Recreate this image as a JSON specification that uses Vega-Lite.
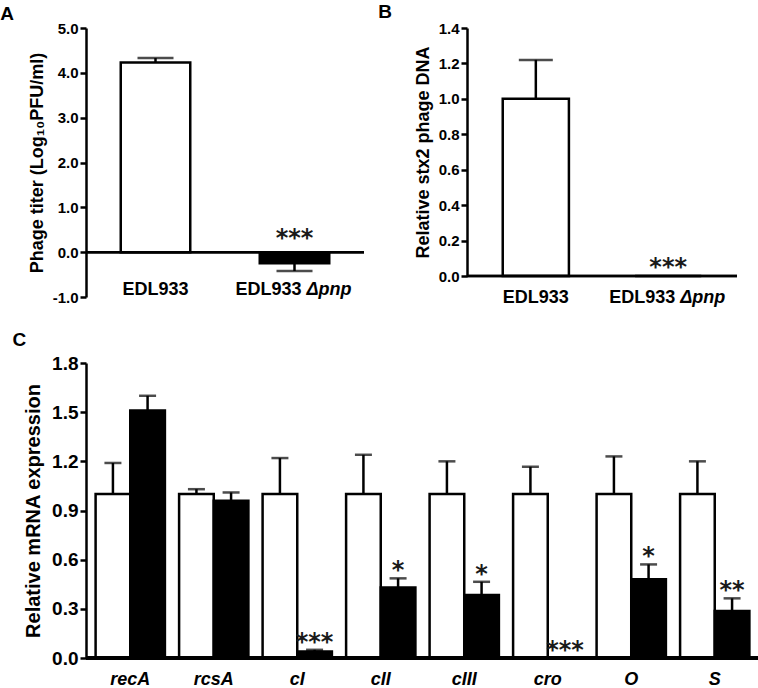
{
  "$schema": "https://vega.github.io/schema/vega-lite/v6.json",
  "padding": {"left": 0, "top": 3, "right": 0, "bottom": 0},
  "background": "white",
  "config": {
    "font": "Liberation Sans",
    "view": {"stroke": null},
    "axis": {
      "grid": false,
      "domainColor": "black",
      "domainWidth": 2.5,
      "tickColor": "black",
      "tickWidth": 2.5,
      "tickSize": 6,
      "labelColor": "black",
      "labelFont": "Liberation Sans",
      "labelFontWeight": "bold",
      "titleColor": "black",
      "titleFont": "Liberation Sans",
      "titleFontWeight": "bold",
      "labelPadding": 2,
      "labelOverlap": false
    },
    "title": {"font": "Liberation Sans", "fontWeight": "bold", "fontSize": 19, "color": "black", "anchor": "start"}
  },
  "spacing": 24,
  "vconcat": [
    {
      "spacing": 12,
      "hconcat": [
        {
          "width": 278,
          "height": 269,
          "title": {"text": "A", "dx": -28, "offset": -3},
          "data": {"values": [
            {"strain": "EDL933", "mean": 4.23, "errEnd": 4.33, "sig": ""},
            {"strain": "EDL933 Δpnp", "mean": -0.245, "errEnd": -0.42, "sig": "***"}
          ]},
          "encoding": {
            "x": {"field": "strain", "type": "nominal", "sort": null, "axis": null,
                  "scale": {"paddingInner": 0.5, "paddingOuter": 0.25}}
          },
          "layer": [
            {"mark": {"type": "bar", "stroke": "black", "strokeWidth": 2.5},
             "encoding": {
               "y": {"field": "mean", "type": "quantitative",
                     "scale": {"domain": [-1, 5], "nice": false, "zero": false},
                     "axis": {"values": [-1, 0, 1, 2, 3, 4, 5], "tickCount": 10, "labelFontSize": 15, "titleFontSize": 18, "titlePadding": 6, "labelOverlap": false,
                              "labelExpr": "replace(format(datum.value, '.1f'), '−', '-')",
                              "title": "Phage titer (Log₁₀PFU/ml)"}},
               "fill": {"field": "strain", "type": "nominal", "legend": null,
                        "scale": {"domain": ["EDL933", "EDL933 Δpnp"], "range": ["white", "black"]}}
             }},
            {"mark": {"type": "rule", "color": "black", "strokeWidth": 2.5},
             "encoding": {"y": {"field": "mean", "type": "quantitative"}, "y2": {"field": "errEnd"}}},
            {"mark": {"type": "tick", "color": "black", "thickness": 2.5, "size": 36},
             "encoding": {"y": {"field": "errEnd", "type": "quantitative"}}},
            {"mark": {"type": "rule", "color": "black", "strokeWidth": 2.5},
             "encoding": {"y": {"datum": 0}, "x": null}},
            {"mark": {"type": "text", "font": "DejaVu Sans", "fontWeight": "bold", "fontSize": 24, "baseline": "alphabetic", "dy": -6, "color": "#1a1a1a"},
             "encoding": {"y": {"datum": 0}, "text": {"field": "sig"}}},
            {"transform": [{"filter": "datum.strain == 'EDL933'"}],
             "mark": {"type": "text", "fontSize": 18, "fontWeight": "bold", "baseline": "middle", "align": "center"},
             "encoding": {"y": {"datum": -0.85}, "text": {"value": "EDL933"}}},
            {"transform": [{"filter": "datum.strain != 'EDL933'"}],
             "mark": {"type": "text", "fontSize": 18, "fontWeight": "bold", "baseline": "middle", "align": "right", "dx": 7},
             "encoding": {"y": {"datum": -0.85}, "text": {"value": "EDL933"}}},
            {"transform": [{"filter": "datum.strain != 'EDL933'"}],
             "mark": {"type": "text", "fontSize": 18, "fontWeight": "bold", "fontStyle": "italic", "baseline": "middle", "align": "left", "dx": 12},
             "encoding": {"y": {"datum": -0.85}, "text": {"value": "Δpnp"}}}
          ]
        },
        {
          "width": 270,
          "height": 248,
          "title": {"text": "B", "dx": -36, "offset": -1},
          "data": {"values": [
            {"strain": "EDL933", "mean": 1.0, "errEnd": 1.22, "sig": ""},
            {"strain": "EDL933 Δpnp", "mean": 0, "errEnd": 0, "sig": "***"}
          ]},
          "encoding": {
            "x": {"field": "strain", "type": "nominal", "sort": null, "axis": null,
                  "scale": {"paddingInner": 0.5, "paddingOuter": 0.27}}
          },
          "layer": [
            {"mark": {"type": "bar", "stroke": "black", "strokeWidth": 2.5},
             "encoding": {
               "y": {"field": "mean", "type": "quantitative",
                     "scale": {"domain": [0, 1.4], "nice": false},
                     "axis": {"values": [0, 0.2, 0.4, 0.6, 0.8, 1.0, 1.2, 1.4], "tickCount": 10, "labelFontSize": 15, "titleFontSize": 18, "titlePadding": 6, "labelOverlap": false,
                              "labelExpr": "format(datum.value, '.1f')",
                              "title": "Relative stx2 phage DNA"}},
               "fill": {"field": "strain", "type": "nominal", "legend": null,
                        "scale": {"domain": ["EDL933", "EDL933 Δpnp"], "range": ["white", "black"]}}
             }},
            {"transform": [{"filter": "datum.errEnd > datum.mean"}],
             "mark": {"type": "rule", "color": "black", "strokeWidth": 2.5},
             "encoding": {"y": {"field": "mean", "type": "quantitative"}, "y2": {"field": "errEnd"}}},
            {"transform": [{"filter": "datum.errEnd > datum.mean"}],
             "mark": {"type": "tick", "color": "black", "thickness": 2.5, "size": 34},
             "encoding": {"y": {"field": "errEnd", "type": "quantitative"}}},
            {"mark": {"type": "rule", "color": "black", "strokeWidth": 2.5},
             "encoding": {"y": {"datum": 0}, "x": null}},
            {"mark": {"type": "text", "font": "DejaVu Sans", "fontWeight": "bold", "fontSize": 24, "baseline": "alphabetic", "dy": -1, "color": "#1a1a1a"},
             "encoding": {"y": {"datum": 0}, "text": {"field": "sig"}}},
            {"transform": [{"filter": "datum.strain == 'EDL933'"}],
             "mark": {"type": "text", "fontSize": 18, "fontWeight": "bold", "baseline": "middle", "align": "center", "dy": 22},
             "encoding": {"y": {"datum": 0}, "text": {"value": "EDL933"}}},
            {"transform": [{"filter": "datum.strain != 'EDL933'"}],
             "mark": {"type": "text", "fontSize": 18, "fontWeight": "bold", "baseline": "middle", "align": "right", "dx": 7, "dy": 22},
             "encoding": {"y": {"datum": 0}, "text": {"value": "EDL933"}}},
            {"transform": [{"filter": "datum.strain != 'EDL933'"}],
             "mark": {"type": "text", "fontSize": 18, "fontWeight": "bold", "fontStyle": "italic", "baseline": "middle", "align": "left", "dx": 12, "dy": 22},
             "encoding": {"y": {"datum": 0}, "text": {"value": "Δpnp"}}}
          ]
        }
      ]
    },
    {
      "width": 673,
      "height": 295,
      "title": {"text": "C", "dx": -11, "offset": 4},
      "data": {"values": [
        {"gene": "recA", "strain": "EDL933", "mean": 1.0, "errEnd": 1.19, "sig": ""},
        {"gene": "recA", "strain": "EDL933 Δpnp", "mean": 1.51, "errEnd": 1.6, "sig": ""},
        {"gene": "rcsA", "strain": "EDL933", "mean": 1.0, "errEnd": 1.03, "sig": ""},
        {"gene": "rcsA", "strain": "EDL933 Δpnp", "mean": 0.96, "errEnd": 1.01, "sig": ""},
        {"gene": "cI", "strain": "EDL933", "mean": 1.0, "errEnd": 1.22, "sig": ""},
        {"gene": "cI", "strain": "EDL933 Δpnp", "mean": 0.04, "errEnd": 0.05, "sig": "***"},
        {"gene": "cII", "strain": "EDL933", "mean": 1.0, "errEnd": 1.24, "sig": ""},
        {"gene": "cII", "strain": "EDL933 Δpnp", "mean": 0.43, "errEnd": 0.486, "sig": "*"},
        {"gene": "cIII", "strain": "EDL933", "mean": 1.0, "errEnd": 1.2, "sig": ""},
        {"gene": "cIII", "strain": "EDL933 Δpnp", "mean": 0.384, "errEnd": 0.465, "sig": "*"},
        {"gene": "cro", "strain": "EDL933", "mean": 1.0, "errEnd": 1.167, "sig": ""},
        {"gene": "cro", "strain": "EDL933 Δpnp", "mean": 0, "errEnd": 0, "sig": "***"},
        {"gene": "O", "strain": "EDL933", "mean": 1.0, "errEnd": 1.23, "sig": ""},
        {"gene": "O", "strain": "EDL933 Δpnp", "mean": 0.48, "errEnd": 0.571, "sig": "*"},
        {"gene": "S", "strain": "EDL933", "mean": 1.0, "errEnd": 1.2, "sig": ""},
        {"gene": "S", "strain": "EDL933 Δpnp", "mean": 0.287, "errEnd": 0.364, "sig": "**"}
      ]},
      "encoding": {
        "x": {"field": "gene", "type": "nominal", "sort": null,
              "scale": {"paddingInner": 0.17, "paddingOuter": 0.115},
              "axis": {"title": null, "domain": false, "ticks": false, "labelAngle": 0, "labelFontSize": 18, "labelFontStyle": "italic", "labelPadding": 12}},
        "xOffset": {"field": "strain", "type": "nominal", "sort": null}
      },
      "layer": [
        {"mark": {"type": "bar", "stroke": "black", "strokeWidth": 2.5},
         "encoding": {
           "y": {"field": "mean", "type": "quantitative",
                 "scale": {"domain": [0, 1.8], "nice": false},
                 "axis": {"values": [0, 0.3, 0.6, 0.9, 1.2, 1.5, 1.8], "tickCount": 10, "format": ".1f", "labelFontSize": 19, "titleFontSize": 20, "titlePadding": 8,
                          "title": "Relative mRNA expression"}},
           "fill": {"field": "strain", "type": "nominal", "legend": null,
                    "scale": {"domain": ["EDL933", "EDL933 Δpnp"], "range": ["white", "black"]}}
         }},
        {"mark": {"type": "rule", "color": "black", "strokeWidth": 2.5},
         "encoding": {"y": {"field": "mean", "type": "quantitative"}, "y2": {"field": "errEnd"}}},
        {"mark": {"type": "tick", "color": "black", "thickness": 2.5, "size": 17},
         "encoding": {"y": {"field": "errEnd", "type": "quantitative"}}},
        {"mark": {"type": "rule", "color": "black", "strokeWidth": 2.5},
         "encoding": {"y": {"datum": 0}, "x": null, "xOffset": null}},
        {"mark": {"type": "text", "font": "DejaVu Sans", "fontWeight": "bold", "fontSize": 24, "baseline": "alphabetic", "dy": 0, "color": "#1a1a1a"},
         "encoding": {"y": {"field": "errEnd", "type": "quantitative"}, "text": {"field": "sig"}}}
      ]
    }
  ]
}
